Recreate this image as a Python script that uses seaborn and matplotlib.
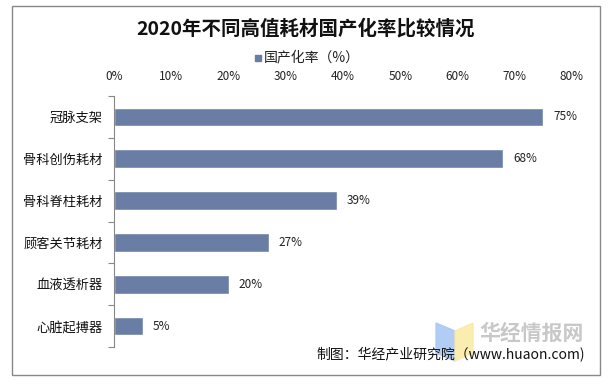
import matplotlib
matplotlib.use("Agg")
import matplotlib.pyplot as plt
import seaborn as sns
import pandas as pd
from matplotlib.patches import Rectangle, Polygon
from matplotlib.ticker import FixedLocator, PercentFormatter

categories = ["冠脉支架", "骨科创伤耗材", "骨科脊柱耗材", "顾客关节耗材", "血液透析器", "心脏起搏器"]
values = [75, 68, 39, 27, 20, 5]
xticks = [0, 10, 20, 30, 40, 50, 60, 70, 80]
series_name = "国产化率（%）"
title = "2020年不同高值耗材国产化率比较情况"
source = "制图：华经产业研究院（www.huaon.com)"

sns.set_theme(style="white")
plt.rcParams['font.family'] = ['Noto Sans CJK SC', 'DejaVu Sans']

df = pd.DataFrame({"cat": categories, "val": values, "series": series_name})

fig = plt.figure(figsize=(6.08, 3.84), dpi=100)
ax = fig.add_axes([114/608, 1-347/384, (572-114)/608, (347-96)/384])
bar_color = "#6A7EA5"
sns.barplot(data=df, x="val", y="cat", hue="series", palette=[bar_color],
            orient="h", width=0.45, ax=ax, legend=False, saturation=1)

ax.set_xlim(0, 80)
ax.set_ylim(len(categories) - 0.5, -0.5)
ax.xaxis.tick_top()
ax.set_xticks(xticks)
ax.xaxis.set_major_formatter(PercentFormatter(decimals=0))
ax.tick_params(axis="x", length=0, labelsize=8.5, colors="#222222", pad=9)
ax.tick_params(axis="y", which="major", length=0, labelsize=9.5, colors="#111111", pad=8)
ax.yaxis.set_minor_locator(FixedLocator([i - 0.5 for i in range(len(categories) + 1)]))
ax.tick_params(axis="y", which="minor", length=4, width=0.8, color="#888888", direction="out", left=True)
ax.set_xlabel("")
ax.set_ylabel("")
for s in ["top", "right", "bottom"]:
    ax.spines[s].set_visible(False)
ax.spines["left"].set_color("#888888")
ax.spines["left"].set_linewidth(0.8)

for i, v in enumerate(values):
    ax.text(v + 1.7, i, f"{v}%", va="center", ha="left", fontsize=8.5, color="#222222")

# outer border
fig.patches.append(Rectangle((12/608, 1-375/384), (600-12)/608, (375-6)/384,
                             transform=fig.transFigure, fill=False,
                             edgecolor="#888888", linewidth=1))

fig.text(306/608, 1-29/384, title, ha="center", va="center", fontsize=14,
         fontweight="bold", color="#111111")

# legend
fig.patches.append(Rectangle((255/608, 1-61/384), 6/608, 6/384,
                             transform=fig.transFigure, color=bar_color))
fig.text(264/608, 1-57/384, series_name, ha="left", va="center", fontsize=10, color="#222222")

# watermark logo
fig.patches.append(Polygon([(436/608, 1-323/384), (455/608, 1-331/384), (455/608, 1-361/384), (436/608, 1-353/384)],
                           closed=True, transform=fig.transFigure, color="#A9C8F5", alpha=0.9))
fig.patches.append(Polygon([(455/608, 1-331/384), (473/608, 1-323/384), (473/608, 1-353/384), (455/608, 1-361/384)],
                           closed=True, transform=fig.transFigure, color="#FBEAA6", alpha=0.9))
fig.text(479/608, 1-333/384, "华经情报网", ha="left", va="center", fontsize=15,
         fontweight="bold", color="#C8C8C8")

fig.text(585/608, 1-355/384, source, ha="right", va="center", fontsize=10, color="#111111")

fig.savefig("out.png", dpi=100)
